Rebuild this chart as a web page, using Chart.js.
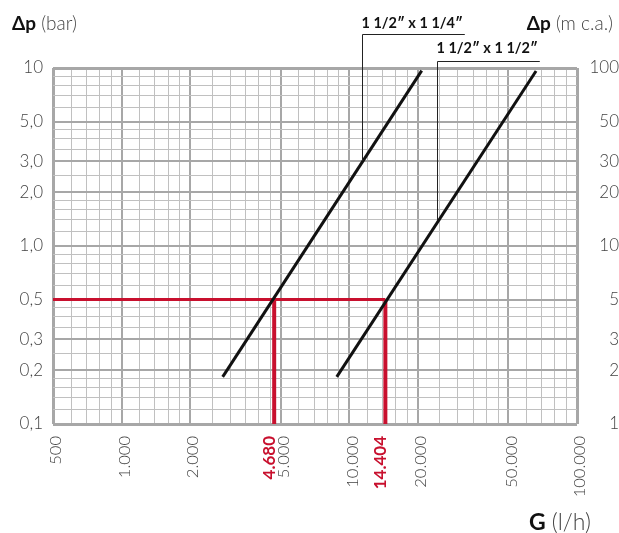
<!DOCTYPE html>
<html>
<head>
<meta charset="utf-8">
<script src="https://cdn.jsdelivr.net/npm/chart.js@4/dist/chart.umd.min.js"></script>
<style>
  body { margin: 0; background: #fff; }
  #wrap { width: 619px; height: 533px; }
</style>
</head>
<body>
<div id="wrap"><canvas id="myChart"></canvas></div>
<script>
// curves (flow l/h, pressure drop bar)
const flow1 = [2780, 20800]
const dp1 = [0.184, 9.66]
const flow2 = [8810, 66100]
const dp2 = [0.184, 9.62]

// reference reading at 0.5 bar
const refFlow = [4680, 14404]
const refLabels = ['4.680', '14.404']
const refDp = 0.5

// grid and tick labels
const xGrid = [500, 600, 700, 800, 900, 1000, 1200, 1400, 1600, 1800, 2000, 2500, 3000, 3500, 4000, 4500,
  5000, 6000, 7000, 8000, 9000, 10000, 12000, 14000, 16000, 18000, 20000, 25000, 30000, 35000, 40000, 45000,
  50000, 60000, 70000, 80000, 90000, 100000]
const xMajor = [1000, 2000, 5000, 10000, 20000, 50000]
const xTicks = [500, 1000, 2000, 5000, 10000, 20000, 50000, 100000]
const xTickLabels = ['500', '1.000', '2.000', '5.000', '10.000', '20.000', '50.000', '100.000']

const yGrid = [0.1, 0.12, 0.14, 0.16, 0.18, 0.2, 0.25, 0.3, 0.35, 0.4, 0.45, 0.5, 0.6, 0.7, 0.8, 0.9,
  1, 1.2, 1.4, 1.6, 1.8, 2, 2.5, 3, 3.5, 4, 4.5, 5, 6, 7, 8, 9, 10]
const yMajor = [0.2, 0.3, 0.5, 1, 2, 3, 5]
const yTicks = [0.1, 0.2, 0.3, 0.5, 1, 2, 3, 5, 10]
const yTickLabels = ['0,1', '0,2', '0,3', '0,5', '1,0', '2,0', '3,0', '5,0', '10']
const y2Ticks = [1, 2, 3, 5, 10, 20, 30, 50, 100]
const y2TickLabels = ['1', '2', '3', '5', '10', '20', '30', '50', '100']

// series names and where their leader lines touch the curves
const seriesNames = ['1 1/2\u2033 x 1 1/4\u2033', '1 1/2\u2033 x 1 1/2\u2033']
const leaderFlow = [11400, 24200]
const leaderDp = [3.0, 1.4]

const RED = 'rgb(200, 16, 46)'
const FONT = 'Lato, "Open Sans", sans-serif'

const near = (a, b) => Math.abs(a - b) < 1e-9 * Math.max(1, b)
const inList = (list, v) => list.some(t => near(t, v))

function gridWidth(v, major, ends) {
  if (inList(ends, v)) return 3
  if (inList(major, v)) return 2
  return 1
}
function gridColor(v, major, ends) {
  if (inList(ends, v) || inList(major, v)) return '#a7a7a7'
  return '#c0c0c0'
}

const pts = (xs, ys) => xs.map((x, i) => ({ x, y: ys[i] }))

const redSets = [
  { d: pts([xGrid[0], refFlow[1]], [refDp, refDp]), w: 3 },
  { d: pts([refFlow[0], refFlow[0]], [yGrid[0], refDp]), w: 4 },
  { d: pts([refFlow[1], refFlow[1]], [yGrid[0], refDp]), w: 4 }
].map(r => ({
  data: r.d, borderColor: RED, borderWidth: r.w, pointRadius: 0, borderCapStyle: 'butt', yAxisID: 'y'
}))

const decor = {
  id: 'decor',
  afterDraw(chart) {
    const c = chart.ctx
    const xs = chart.scales.x, ys = chart.scales.y
    c.save()

    // axis titles
    function mixed(x, y, bold, light, size, align) {
      c.textBaseline = 'alphabetic'
      c.font = 'bold ' + size + 'px ' + FONT
      const w1 = c.measureText(bold).width
      c.font = '300 ' + size + 'px ' + FONT
      const w2 = c.measureText(light).width
      let x0 = align === 'right' ? x - w1 - w2 : x
      c.fillStyle = '#111'
      c.textAlign = 'left'
      c.font = 'bold ' + size + 'px ' + FONT
      c.fillText(bold, x0, y)
      c.fillStyle = '#444'
      c.font = '300 ' + size + 'px ' + FONT
      c.fillText(light, x0 + w1, y)
    }
    mixed(12, 30, '\u0394p', ' (bar)', 19, 'left')
    mixed(613, 30, '\u0394p', ' (m c.a.)', 19, 'right')
    mixed(591, 530, 'G', ' (l/h)', 23, 'right')

    // series names with leader lines
    const nameY = [23, 48]
    const lineY = [34, 61]
    c.font = 'bold 14.5px ' + FONT
    c.textAlign = 'left'
    c.textBaseline = 'middle'
    c.strokeStyle = '#222'
    c.lineWidth = 1
    seriesNames.forEach((name, i) => {
      const w = c.measureText(name).width
      const lx = Math.round(xs.getPixelForValue(leaderFlow[i])) + 0.5
      const ly = ys.getPixelForValue(leaderDp[i])
      c.fillStyle = '#111'
      c.fillText(name, lx - 1, nameY[i])
      c.beginPath()
      c.moveTo(lx + w + 1, lineY[i] + 0.5)
      c.lineTo(lx, lineY[i] + 0.5)
      c.lineTo(lx, ly)
      c.stroke()
    })

    // red reference labels on the flow axis
    c.fillStyle = RED
    c.font = 'bold 17px ' + FONT
    c.textAlign = 'right'
    c.textBaseline = 'middle'
    refFlow.forEach((v, i) => {
      const px = xs.getPixelForValue(v) - 5
      c.save()
      c.translate(px, chart.chartArea.bottom + 12)
      c.rotate(-Math.PI / 2)
      c.fillText(refLabels[i], 0, 0)
      c.restore()
    })
    c.restore()
  }
}

const ctx = document.getElementById('myChart')

const myChart = new Chart(ctx, {
  type: 'line',
  data: {
    datasets: [
      { data: pts(flow1, dp1), borderColor: '#111', borderWidth: 3, pointRadius: 0, yAxisID: 'y' },
      { data: pts(flow2, dp2), borderColor: '#111', borderWidth: 3, pointRadius: 0, yAxisID: 'y' },
      ...redSets
    ]
  },
  options: {
    responsive: true,
    maintainAspectRatio: false,
    animation: false,
    layout: { padding: { top: 68, left: 0, right: 0, bottom: 0 } },
    plugins: { legend: { display: false }, tooltip: { enabled: false } },
    scales: {
      x: {
        type: 'logarithmic',
        min: 500,
        max: 100000,
        afterBuildTicks: s => { s.ticks = xGrid.map(value => ({ value })) },
        afterFit: s => { s.height = 109 },
        border: { display: false },
        grid: {
          drawTicks: false,
          lineWidth: c => gridWidth(c.tick.value, xMajor, [500, 100000]),
          color: c => gridColor(c.tick.value, xMajor, [500, 100000])
        },
        ticks: {
          autoSkip: false,
          minRotation: 90,
          maxRotation: 90,
          padding: 12,
          labelOffset: 3,
          color: '#444',
          font: { family: FONT, size: 16.5, weight: '300' },
          callback: v => {
            const i = xTicks.findIndex(t => near(t, v))
            return i < 0 ? '' : xTickLabels[i]
          }
        }
      },
      y: {
        type: 'logarithmic',
        position: 'left',
        min: 0.1,
        max: 10,
        afterBuildTicks: s => { s.ticks = yGrid.map(value => ({ value })) },
        afterFit: s => { s.width = 53 },
        border: { display: false },
        grid: {
          drawTicks: false,
          lineWidth: c => gridWidth(c.tick.value, yMajor, [0.1, 10]),
          color: c => gridColor(c.tick.value, yMajor, [0.1, 10])
        },
        ticks: {
          autoSkip: false,
          padding: 10,
          color: '#444',
          font: { family: FONT, size: 17, weight: '300' },
          callback: v => {
            const i = yTicks.findIndex(t => near(t, v))
            return i < 0 ? '' : yTickLabels[i]
          }
        }
      },
      y2: {
        type: 'logarithmic',
        position: 'right',
        min: 1,
        max: 100,
        afterBuildTicks: s => { s.ticks = y2Ticks.map(value => ({ value })) },
        afterFit: s => { s.width = 42 },
        border: { display: false },
        grid: { display: false, drawTicks: false },
        ticks: {
          autoSkip: false,
          padding: 13,
          crossAlign: 'far',
          color: '#444',
          font: { family: FONT, size: 17, weight: '300' },
          callback: v => {
            const i = y2Ticks.findIndex(t => near(t, v))
            return i < 0 ? '' : y2TickLabels[i]
          }
        }
      }
    }
  },
  plugins: [decor]
})
</script>
</body>
</html>
